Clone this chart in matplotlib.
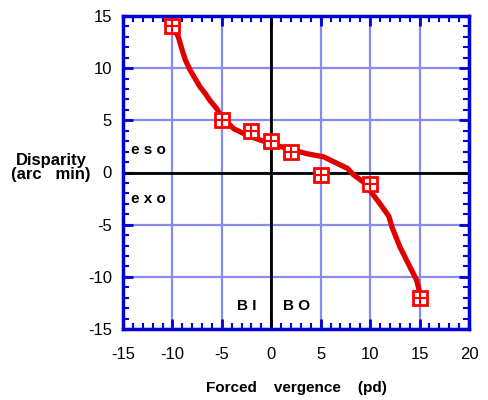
import matplotlib.pyplot as plt
from matplotlib.ticker import MultipleLocator

plt.rcParams['font.family'] = ['Liberation Sans', 'DejaVu Sans']
plt.rcParams['axes.unicode_minus'] = False

# measured points (square markers)
pts_x = [-10, -5, -2, 0, 2, 5, 10, 15]
pts_y = [14, 5, 4, 3, 2, -0.2, -1.1, -12]

# fitted curve
curve_x = [-10, -9.4, -9.0, -8.7, -8.2, -7.7, -7.2, -6.7, -6.2, -5.5, -5.0,
           -3.8, -2.5, -1.1, 0.2, 1.6, 3.6, 5.3, 6.6, 7.7, 8.3, 9.3, 10.2,
           11.0, 11.9, 12.2, 13.0, 14.0, 14.7, 15.1]
curve_y = [14, 13.0, 11.7, 10.8, 9.8, 9.0, 8.2, 7.6, 6.9, 6.1, 5.3,
           4.2, 3.6, 3.1, 2.7, 2.3, 1.8, 1.5, 0.9, 0.4, -0.2, -0.9, -2.0,
           -3.0, -4.2, -5.2, -7.1, -9.0, -10.3, -11.8]

x_ticks = [-15, -10, -5, 0, 5, 10, 15, 20]
y_ticks = [-15, -10, -5, 0, 5, 10, 15]

fig = plt.figure(figsize=(4.88, 4.0), dpi=100)
ax = fig.add_axes([0.252, 0.1775, 0.709, 0.7825])

ax.set_xlim(-15, 20)
ax.set_ylim(-15, 15)
ax.set_xticks(x_ticks)
ax.set_yticks(y_ticks)
ax.xaxis.set_minor_locator(MultipleLocator(1))
ax.yaxis.set_minor_locator(MultipleLocator(1))

blue = '#0000d8'
ax.grid(True, which='major', color='#8a8aee', lw=1.6)
ax.set_axisbelow(True)
for s in ax.spines.values():
    s.set_color(blue)
    s.set_linewidth(2.5)
ax.tick_params(which='both', direction='in', top=True, right=True, colors=blue,
               labelcolor='black', labelsize=12)
ax.tick_params(which='major', length=7, width=2)
ax.tick_params(which='minor', length=4, width=1.5)
ax.tick_params(axis='x', pad=13)
ax.tick_params(axis='y', pad=8)
for lab in ax.get_xticklabels() + ax.get_yticklabels():
    lab.set_fontweight('light')

ax.axhline(0, color='black', lw=2, zorder=2)
ax.axvline(0, color='black', lw=2, zorder=2)

ax.plot(curve_x, curve_y, color='#e00000', lw=3.8, zorder=3,
        solid_joinstyle='round', solid_capstyle='round')
ax.plot(pts_x, pts_y, ls='none', marker='s', ms=10, mfc='white', mec='#ff0000',
        mew=2, zorder=4)
ax.plot(pts_x, pts_y, ls='none', marker='+', ms=8, mec='#ff0000', mew=1.5, zorder=5)

bold = dict(fontweight='bold', fontsize=11)
ax.text(-14.2, 1.8, 'e s o', **bold)
ax.text(-14.2, -2.9, 'e x o', **bold)
ax.text(-3.5, -13.2, 'B I', **bold)
ax.text(1.2, -13.2, 'B O', **bold)

fig.text(0.105, 0.6, 'Disparity', ha='center', va='center', fontweight='bold', fontsize=12)
fig.text(0.105, 0.565, '(arc   min)', ha='center', va='center', fontweight='bold', fontsize=12)
fig.text(0.607, 0.03, 'Forced    vergence    (pd)', ha='center', va='center',
         fontweight='bold', fontsize=11)

fig.savefig('out.png', dpi=100)
